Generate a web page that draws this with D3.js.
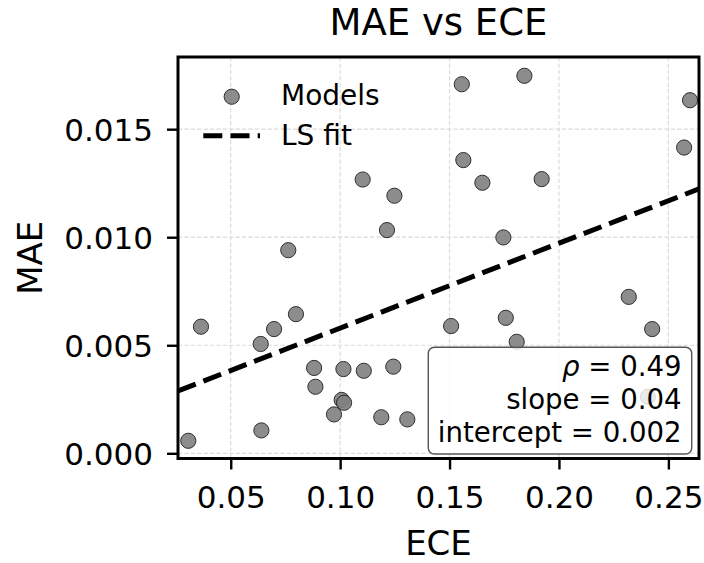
<!DOCTYPE html>
<html>
<head>
<meta charset="utf-8">
<script src="https://cdn.jsdelivr.net/npm/d3@7"></script>
<style>
  html, body { margin: 0; padding: 0; background: #fff; }
  text { font-family: "DejaVu Sans", sans-serif; fill: #000; }
</style>
</head>
<body>
<script>
// ---- Data ----
const eceValues = [0.0306, 0.0364, 0.0637, 0.0640, 0.0698, 0.0763, 0.0798, 0.0881, 0.0887, 0.0972,
                   0.1007, 0.1018, 0.1015, 0.1103, 0.1108, 0.1188, 0.1214, 0.1243, 0.1248, 0.1307,
                   0.1507, 0.1556, 0.1563, 0.1650, 0.1746, 0.1757, 0.1807, 0.1842, 0.1921, 0.2319,
                   0.2426, 0.2406, 0.2572, 0.2599];
const maeValues = [0.00058, 0.00586, 0.00506, 0.00106, 0.00575, 0.00940, 0.00644, 0.00395, 0.00308, 0.00180,
                   0.00247, 0.00234, 0.00390, 0.01267, 0.00382, 0.00167, 0.01033, 0.00401, 0.01192, 0.00157,
                   0.00589, 0.01708, 0.01357, 0.01252, 0.00999, 0.00627, 0.00516, 0.01747, 0.01269, 0.00724,
                   0.00575, 0.00262, 0.01415, 0.01634];
const xTicks = [0.05, 0.10, 0.15, 0.20, 0.25];
const yTicks = [0.000, 0.005, 0.010, 0.015];
const xTickLabels = ["0.05", "0.10", "0.15", "0.20", "0.25"];
const yTickLabels = ["0.000", "0.005", "0.010", "0.015"];
const statsLines = [["ρ", " = 0.49"], ["", "slope = 0.04"], ["", "intercept = 0.002"]];
const legendLabels = ["Models", "LS fit"];

// ---- Layout ----
const W = 704, H = 563;
const L = 178, R = 699, T = 57, B = 458.5;

const svg = d3.select("body").append("svg").attr("width", W).attr("height", H)
  .style("background", "#fff");

const x = d3.scaleLinear().domain([0.0259, 0.2640]).range([L, R]);
const y = d3.scaleLinear().domain([-0.00024, 0.01834]).range([B, T]);

svg.append("defs").append("clipPath").attr("id", "plotclip")
  .append("rect").attr("x", L).attr("y", T).attr("width", R - L).attr("height", B - T);

// grid
const grid = svg.append("g");
grid.selectAll(".gx").data(xTicks).join("line")
  .attr("x1", d => x(d)).attr("x2", d => x(d)).attr("y1", T).attr("y2", B)
  .attr("stroke", "#dcdcdc").attr("stroke-width", 1.2).attr("stroke-dasharray", "4.4,2");
grid.selectAll(".gy").data(yTicks).join("line")
  .attr("y1", d => y(d)).attr("y2", d => y(d)).attr("x1", L).attr("x2", R)
  .attr("stroke", "#dcdcdc").attr("stroke-width", 1.2).attr("stroke-dasharray", "4.4,2");

// points
const pts = eceValues.map((e, i) => ({ x: e, y: maeValues[i] }));
svg.append("g").attr("clip-path", "url(#plotclip)")
  .selectAll("circle").data(pts).join("circle")
  .attr("cx", d => x(d.x)).attr("cy", d => y(d.y)).attr("r", 7.6)
  .attr("fill", "#808080").attr("stroke", "#1a1a1a").attr("stroke-width", 1)
  .attr("opacity", 0.9);

// least squares fit
const mx = d3.mean(eceValues), my = d3.mean(maeValues);
let sxy = 0, sxx = 0;
eceValues.forEach((e, i) => { sxy += (e - mx) * (maeValues[i] - my); sxx += (e - mx) * (e - mx); });
const slope = sxy / sxx, intercept = my - slope * mx;
const xd = x.domain();
svg.append("g").attr("clip-path", "url(#plotclip)")
  .append("line")
  .attr("x1", x(xd[0])).attr("y1", y(intercept + slope * xd[0]))
  .attr("x2", x(xd[1])).attr("y2", y(intercept + slope * xd[1]))
  .attr("stroke", "#000").attr("stroke-width", 5).attr("stroke-dasharray", "19,8.2");

// axes
const xAxis = svg.append("g").attr("transform", `translate(0,${B})`)
  .call(d3.axisBottom(x).tickValues(xTicks).tickFormat((d, i) => xTickLabels[i]).tickSize(11));
xAxis.select(".domain").remove();
xAxis.selectAll(".tick line").attr("stroke", "#000").attr("stroke-width", 2.4);
xAxis.selectAll(".tick text").attr("y", 49.5).attr("dy", "0")
  .style("font-size", "31px").style("font-family", "DejaVu Sans");

const yAxis = svg.append("g").attr("transform", `translate(${L},0)`)
  .call(d3.axisLeft(y).tickValues(yTicks).tickFormat((d, i) => yTickLabels[i]).tickSize(11));
yAxis.select(".domain").remove();
yAxis.selectAll(".tick line").attr("stroke", "#000").attr("stroke-width", 2.4);
yAxis.selectAll(".tick text").attr("x", -25).attr("dy", "0.365em")
  .style("font-size", "31px").style("font-family", "DejaVu Sans");

// frame
svg.append("rect").attr("x", L).attr("y", T).attr("width", R - L).attr("height", B - T)
  .attr("fill", "none").attr("stroke", "#000").attr("stroke-width", 3);

// stats box
svg.append("rect").attr("x", 428.3).attr("y", 347.3).attr("width", 263.4).attr("height", 106.7)
  .attr("rx", 6).attr("ry", 6)
  .attr("fill", "#fff").attr("fill-opacity", 0.82)
  .attr("stroke", "#555").attr("stroke-width", 1.4);
const statBase = [375.5, 409, 441.5];
statsLines.forEach((ln, i) => {
  const t = svg.append("text").attr("x", 681.7).attr("y", statBase[i])
    .attr("text-anchor", "end").style("font-size", "27.6px");
  if (ln[0]) t.append("tspan").style("font-style", "italic").text(ln[0]);
  t.append("tspan").text(ln[1]);
});

// legend
svg.append("circle").attr("cx", 231.7).attr("cy", 96.7).attr("r", 7.6)
  .attr("fill", "#808080").attr("stroke", "#1a1a1a").attr("stroke-width", 1).attr("opacity", 0.9);
svg.append("line").attr("x1", 203.3).attr("x2", 260).attr("y1", 135.7).attr("y2", 135.7)
  .attr("stroke", "#000").attr("stroke-width", 5).attr("stroke-dasharray", "19,8.2");
svg.append("text").attr("x", 281).attr("y", 105).style("font-size", "28px").text(legendLabels[0]);
svg.append("text").attr("x", 281).attr("y", 145).style("font-size", "28px").text(legendLabels[1]);

// titles
svg.append("text").attr("x", (L + R) / 2).attr("y", 34.5).attr("text-anchor", "middle")
  .style("font-size", "37px").text("MAE vs ECE");
svg.append("text").attr("x", (L + R) / 2).attr("y", 555).attr("text-anchor", "middle")
  .style("font-size", "34px").text("ECE");
svg.append("text").attr("transform", `translate(41.5,${(T + B) / 2}) rotate(-90)`)
  .attr("text-anchor", "middle").style("font-size", "34px").text("MAE");
</script>
</body>
</html>
